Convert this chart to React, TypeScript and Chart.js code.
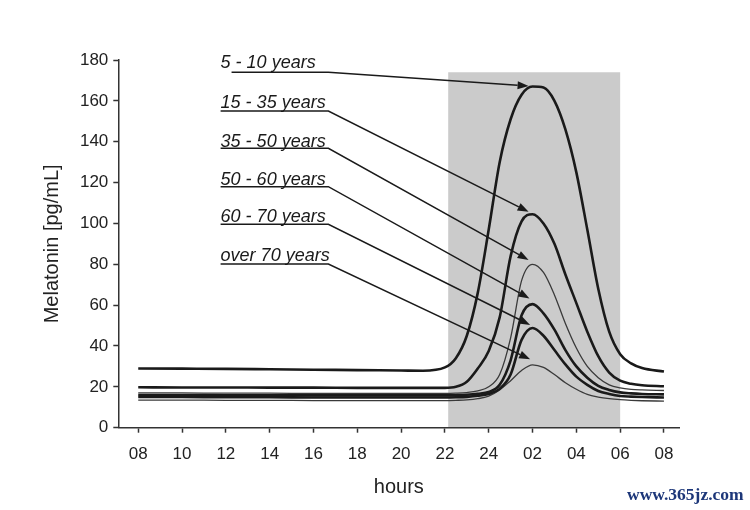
import { useEffect, useRef } from "react";
import { Chart, registerables } from "chart.js";

Chart.register(...registerables);

// ---- data ----
const HOURS = [8, 10, 12, 14, 16, 18, 20, 21, 22, 22.5, 23, 23.5, 24, 24.5, 25, 25.5, 26, 26.5, 27, 27.5, 28, 28.5, 29, 29.5, 30, 30.5, 31, 32];
const AGE_5_10 = [29, 28.9, 28.8, 28.6, 28.4, 28.2, 28, 27.9, 29.5, 34, 45, 66, 97, 130, 151, 163, 167, 166.5, 160, 146, 125, 97, 68, 47, 36, 31.5, 29.2, 27.5];
const AGE_15_35 = [19.8, 19.7, 19.7, 19.6, 19.6, 19.5, 19.5, 19.5, 19.5, 20, 22.5, 29, 37.5, 54, 84, 101, 104.5, 100, 90, 75, 61, 47, 35, 27, 23, 21.5, 20.8, 20.3];
const AGE_35_50 = [17, 17, 16.9, 16.9, 16.8, 16.8, 16.8, 16.8, 16.8, 16.9, 17.2, 18, 20, 26, 44, 72, 80, 76, 65, 51, 39, 30, 24.5, 21, 19.5, 18.8, 18.5, 18.2];
const AGE_50_60 = [16, 16, 15.9, 15.9, 15.8, 15.8, 15.8, 15.8, 15.8, 15.9, 16.1, 16.6, 17.5, 21, 33, 55, 60.5, 56, 48, 38, 30, 24.5, 20.5, 18.5, 17.3, 16.8, 16.5, 16.3];
const AGE_60_70 = [15, 15, 14.9, 14.9, 14.8, 14.8, 14.8, 14.8, 14.8, 14.9, 15.1, 15.6, 16.5, 19, 26, 43, 48.8, 45, 38, 31, 25, 21, 18, 16.5, 15.5, 15.2, 15, 14.8];
const AGE_OVER_70 = [13.5, 13.5, 13.4, 13.4, 13.3, 13.3, 13.3, 13.3, 13.3, 13.4, 13.6, 14.2, 15.5, 18.5, 23, 28, 30.8, 29.5, 26, 22, 18.8, 16.3, 15, 14.2, 13.7, 13.4, 13.2, 13];

const X_TICK_VALUES = [8, 10, 12, 14, 16, 18, 20, 22, 24, 26, 28, 30, 32];
const X_TICK_LABELS = ["08", "10", "12", "14", "16", "18", "20", "22", "24", "02", "04", "06", "08"];

const NIGHT_START = 22.15;
const NIGHT_END = 30;
const NIGHT_TOP = 174;

// annotations (in data units)
const LABEL_TEXT = ["5 - 10 years", "15 - 35 years", "35 - 50 years", "50 - 60 years", "60 - 70 years", "over 70 years"];
const LABEL_X = 11.76;
const LABEL_BASELINE = [175.9, 156.4, 137.6, 118.8, 100.8, 81.8];
const UNDERLINE_START = [12.26, 11.76, 11.76, 11.76, 11.76, 11.76];
const UNDERLINE_Y = [174, 155, 136.8, 118, 99.6, 80.1];
const UNDERLINE_END = 16.68;
const ARROW_TIP_X = [25.82, 25.82, 25.82, 25.86, 25.89, 25.89];
const ARROW_TIP_Y = [167.3, 105.7, 82.1, 63.3, 50.3, 33.5];

const SERIES = [
  { label: "5 - 10 years", data: AGE_5_10, thick: true },
  { label: "15 - 35 years", data: AGE_15_35, thick: true },
  { label: "35 - 50 years", data: AGE_35_50, thick: false },
  { label: "50 - 60 years", data: AGE_50_60, thick: true },
  { label: "60 - 70 years", data: AGE_60_70, thick: true },
  { label: "over 70 years", data: AGE_OVER_70, thick: false },
];

const FONT = '"Liberation Sans", Arial, Helvetica, sans-serif';

const nightPlugin = {
  id: "nightShade",
  beforeDraw(chart: any) {
    const { ctx, scales } = chart;
    const x = scales.x, y = scales.y;
    const x0 = x.getPixelForValue(NIGHT_START);
    const x1 = x.getPixelForValue(NIGHT_END);
    const y0 = y.getPixelForValue(NIGHT_TOP);
    const y1 = y.getPixelForValue(0);
    ctx.save();
    ctx.fillStyle = "#cbcbcb";
    ctx.fillRect(x0, y0, x1 - x0, y1 - y0);
    ctx.restore();
  },
};

const annotationPlugin = {
  id: "ageLabels",
  afterDatasetsDraw(chart: any) {
    const { ctx, scales } = chart;
    const x = scales.x, y = scales.y;
    ctx.save();
    ctx.font = `italic 18px ${FONT}`;
    ctx.fillStyle = "#1a1a1a";
    ctx.strokeStyle = "#1a1a1a";
    ctx.lineWidth = 1.5;
    ctx.textAlign = "left";
    ctx.textBaseline = "alphabetic";
    for (let i = 0; i < LABEL_TEXT.length; i++) {
      ctx.fillText(LABEL_TEXT[i], x.getPixelForValue(LABEL_X), y.getPixelForValue(LABEL_BASELINE[i]));
      const ux0 = x.getPixelForValue(UNDERLINE_START[i]);
      const ux1 = x.getPixelForValue(UNDERLINE_END);
      const uy = y.getPixelForValue(UNDERLINE_Y[i]);
      const tx = x.getPixelForValue(ARROW_TIP_X[i]);
      const ty = y.getPixelForValue(ARROW_TIP_Y[i]);
      const ang = Math.atan2(ty - uy, tx - ux1);
      const headLen = 11;
      const headW = 4;
      const bx = tx - headLen * Math.cos(ang);
      const by = ty - headLen * Math.sin(ang);
      ctx.beginPath();
      ctx.moveTo(ux0, uy);
      ctx.lineTo(ux1, uy);
      ctx.lineTo(bx, by);
      ctx.stroke();
      ctx.beginPath();
      ctx.moveTo(tx, ty);
      ctx.lineTo(bx + headW * Math.sin(ang), by - headW * Math.cos(ang));
      ctx.lineTo(bx - headW * Math.sin(ang), by + headW * Math.cos(ang));
      ctx.closePath();
      ctx.fill();
    }
    ctx.restore();
  },
};

export default function App() {
  const canvasRef = useRef<HTMLCanvasElement | null>(null);

  useEffect(() => {
    if (!canvasRef.current) return;
    const chart = new Chart(canvasRef.current, {
      type: "line",
      data: {
        datasets: SERIES.map((s) => ({
          label: s.label,
          data: HOURS.map((h, i) => ({ x: h, y: s.data[i] })),
          borderColor: s.thick ? "#1a1a1a" : "#3a3a3a",
          borderWidth: s.thick ? 2.6 : 1.3,
          pointRadius: 0,
          fill: false,
          cubicInterpolationMode: "monotone" as const,
        })),
      },
      options: {
        responsive: false,
        animation: false,
        events: [],
        layout: { padding: { top: 60, right: 70.7, bottom: 0, left: 0 } },
        plugins: {
          legend: { display: false },
          tooltip: { enabled: false },
          title: { display: false },
        },
        scales: {
          x: {
            type: "linear",
            min: 7.09,
            max: 32.7,
            afterBuildTicks: (s: any) => {
              s.ticks = X_TICK_VALUES.map((v) => ({ value: v }));
            },
            afterFit: (s: any) => {
              s.height = 82.3;
            },
            ticks: {
              autoSkip: false,
              maxRotation: 0,
              padding: 11,
              color: "#222",
              font: { family: FONT, size: 17 },
              callback: (_v: any, i: number) => X_TICK_LABELS[i] ?? "",
            },
            grid: {
              display: true,
              drawOnChartArea: false,
              drawTicks: true,
              tickLength: 5,
              tickColor: "#333",
              tickWidth: 1.5,
            },
            border: { display: true, color: "#333", width: 1.5 },
            title: {
              display: true,
              text: "hours",
              color: "#222",
              font: { family: FONT, size: 20 },
              padding: { top: 0, bottom: 10.5 },
            },
          },
          y: {
            type: "linear",
            min: 0,
            max: 180,
            afterFit: (s: any) => {
              s.width = 118.3;
            },
            ticks: {
              stepSize: 20,
              padding: 5,
              color: "#222",
              font: { family: FONT, size: 17 },
            },
            grid: {
              display: true,
              drawOnChartArea: false,
              drawTicks: true,
              tickLength: 5,
              tickColor: "#333",
              tickWidth: 1.5,
            },
            border: { display: true, color: "#333", width: 1.5 },
            title: {
              display: true,
              text: "Melatonin [pg/mL]",
              color: "#222",
              font: { family: FONT, size: 20 },
              padding: { top: 40, bottom: 0 },
            },
          },
        },
      },
      plugins: [nightPlugin, annotationPlugin],
    });
    return () => chart.destroy();
  }, []);

  return (
    <div style={{ position: "absolute", left: 0, top: 0, width: 750, height: 510, background: "#fff", overflow: "hidden" }}>
      <canvas ref={canvasRef} width={750} height={510} style={{ display: "block", width: 750, height: 510 }} />
      <div
        style={{
          position: "absolute",
          left: 627,
          top: 486,
          fontFamily: '"Liberation Serif", "DejaVu Serif", serif',
          fontWeight: "bold",
          fontSize: 17.5,
          lineHeight: "17.5px",
          color: "#1d3779",
          whiteSpace: "nowrap",
        }}
      >
        www.365jz.com
      </div>
    </div>
  );
}
